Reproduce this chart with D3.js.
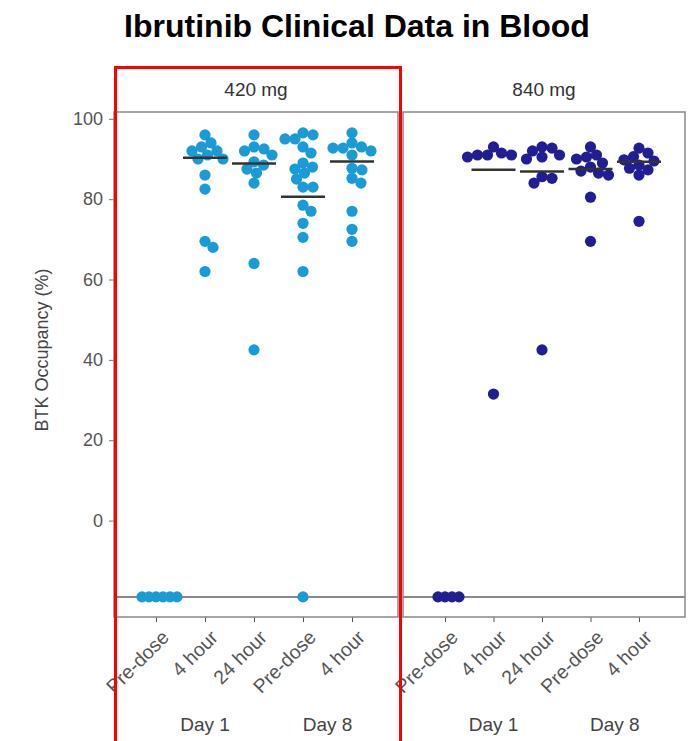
<!DOCTYPE html>
<html>
<head>
<meta charset="utf-8">
<script src="https://cdn.jsdelivr.net/npm/d3@7"></script>
<style>
  body { margin: 0; background: #fff; }
  text { font-family: "Liberation Sans", Arial, sans-serif; }
</style>
</head>
<body>
<svg id="chart" width="692" height="741"></svg>
<script>
const width = 692;
const height = 741;

// below limit of quantification, drawn on the baseline
const BLQ = -19;

const doses = ["420 mg", "840 mg"];
const timeKeys = ["d1pre", "d1h4", "d1h24", "d8pre", "d8h4"];
const timeLabels = ["Pre-dose", "4 hour", "24 hour", "Pre-dose", "4 hour"];
const days = [["Day 1", "d1h4", "d1h4"], ["Day 8", "d8pre", "d8h4"]];
const yTicks = [0, 20, 40, 60, 80, 100];

const occ420 = [
    [BLQ, BLQ, BLQ, BLQ, BLQ, BLQ],
    [96, 94, 93, 92, 92, 91, 90, 90, 86, 82.5, 69.5, 68, 62],
    [96, 93, 92.5, 92, 91, 89.3, 88.5, 87.5, 86.5, 84, 64, 42.5],
    [96.5, 96, 95, 95, 93, 91.5, 89, 88, 87.5, 86.5, 85, 83, 83, 78.5, 77, 74, 70.5, 62, BLQ],
    [96.5, 94, 93, 92.7, 92.7, 92, 91, 87.7, 87.3, 85.2, 84, 77, 72.5, 69.5]
];
const occ840 = [
    [BLQ, BLQ, BLQ, BLQ],
    [93, 91.5, 91, 91, 91, 90.5, 31.5],
    [93, 92.7, 92, 91, 90.5, 90, 85.6, 85.2, 84, 42.5],
    [93, 91, 90.5, 90, 89, 88, 87, 86.5, 86, 80.5, 69.5],
    [92.7, 91.5, 90.6, 89.8, 89.5, 88.5, 87.7, 87.3, 86, 74.5]
];
// summary bars as drawn in the figure
const line420 = [null, 90.3, 88.9, 80.6, 89.4];
const line840 = [null, 87.3, 86.9, 87.5, 89.3];

const dotColors = ["#1b9bd6", "#211d92"];

const svg = d3.select("#chart");
const plotTop = 112, plotBottom = 617;
const panels = [{left: 114, right: 398}, {left: 403, right: 685}];

const y = d3.scaleLinear().domain([-24, 101.7]).range([plotBottom, plotTop]);

svg.append("text")
    .attr("x", 357).attr("y", 37)
    .attr("text-anchor", "middle")
    .style("font-size", "32px").style("font-weight", "bold")
    .text("Ibrutinib Clinical Data in Blood");

// y axis
const yAxis = svg.append("g")
    .attr("transform", `translate(${panels[0].left},0)`)
    .call(d3.axisLeft(y).tickValues(yTicks).tickSize(5).tickPadding(6));
yAxis.select(".domain").remove();
yAxis.selectAll("line").attr("stroke", "#777");
yAxis.selectAll("text").attr("fill", "#555").style("font-size", "18px");

svg.append("text")
    .attr("transform", `translate(48,${350}) rotate(-90)`)
    .attr("text-anchor", "middle")
    .attr("fill", "#444")
    .style("font-size", "18px")
    .text("BTK Occupancy (%)");

function beeswarm(values, cx, r) {
    const placed = [];
    values.forEach(v => {
        const py = y(v);
        // the below-limit row is packed tighter, as in the source figure
        const d = v === BLQ ? 7 : r;
        let off = 0;
        for (let k = 0; k < 400; k++) {
            off = (k % 2 ? 1 : -1) * Math.ceil(k / 2) * 0.5;
            const hit = placed.some(p => (p.x - off) ** 2 + (p.y - py) ** 2 < d * d);
            if (!hit) break;
        }
        placed.push({x: off, y: py, v: v});
    });
    return placed.map(p => ({cx: cx + p.x, cy: p.y}));
}

[occ420, occ840].forEach((groups, pi) => {
    const pn = panels[pi];
    const lines = pi === 0 ? line420 : line840;
    const x = d3.scalePoint().domain(timeKeys).range([pn.left + 42, pn.right - 46]);
    const g = svg.append("g");

    // strip label
    g.append("text")
        .attr("x", (pn.left + pn.right) / 2).attr("y", 96)
        .attr("text-anchor", "middle")
        .attr("fill", "#333")
        .style("font-size", "19px")
        .text(doses[pi]);

    // BLQ baseline
    g.append("line")
        .attr("x1", pn.left).attr("x2", pn.right)
        .attr("y1", y(BLQ)).attr("y2", y(BLQ))
        .attr("stroke", "#888").attr("stroke-width", 2);

    // x axis ticks and rotated labels
    const xAxis = g.append("g")
        .attr("transform", `translate(0,${plotBottom})`)
        .call(d3.axisBottom(x).tickSize(5).tickFormat((d, i) => timeLabels[i]));
    xAxis.select(".domain").remove();
    xAxis.selectAll("line").attr("stroke", "#555");
    xAxis.selectAll("text")
        .attr("fill", "#555")
        .style("font-size", "19.5px")
        .attr("text-anchor", "end")
        .attr("dy", null)
        .attr("transform", "translate(8,16) rotate(-45)");

    days.forEach(([label, a, b]) => {
        g.append("text")
            .attr("x", (x(a) + x(b)) / 2).attr("y", 731)
            .attr("text-anchor", "middle")
            .attr("fill", "#444")
            .style("font-size", "19px")
            .text(label);
    });

    // dots
    groups.forEach((vals, ti) => {
        const pts = beeswarm(vals, x(timeKeys[ti]), 10);
        g.selectAll(null)
            .data(pts)
            .enter().append("circle")
            .attr("cx", d => d.cx)
            .attr("cy", d => d.cy)
            .attr("r", 5.6)
            .attr("fill", dotColors[pi]);
    });

    // summary bars
    lines.forEach((v, ti) => {
        if (v === null) return;
        g.append("line")
            .attr("x1", x(timeKeys[ti]) - 22).attr("x2", x(timeKeys[ti]) + 22)
            .attr("y1", y(v)).attr("y2", y(v))
            .attr("stroke", "#333").attr("stroke-width", 2.5);
    });

    // panel frame
    g.append("rect")
        .attr("x", pn.left).attr("y", plotTop)
        .attr("width", pn.right - pn.left).attr("height", plotBottom - plotTop)
        .attr("fill", "none")
        .attr("stroke", "#888").attr("stroke-width", 1.5);
});

// red highlight box round the 420 mg panel
svg.append("rect")
    .attr("x", 115.5).attr("y", 67.5)
    .attr("width", 285).attr("height", 700)
    .attr("fill", "none")
    .attr("stroke", "#ff0000").attr("stroke-width", 3);
</script>
</body>
</html>
